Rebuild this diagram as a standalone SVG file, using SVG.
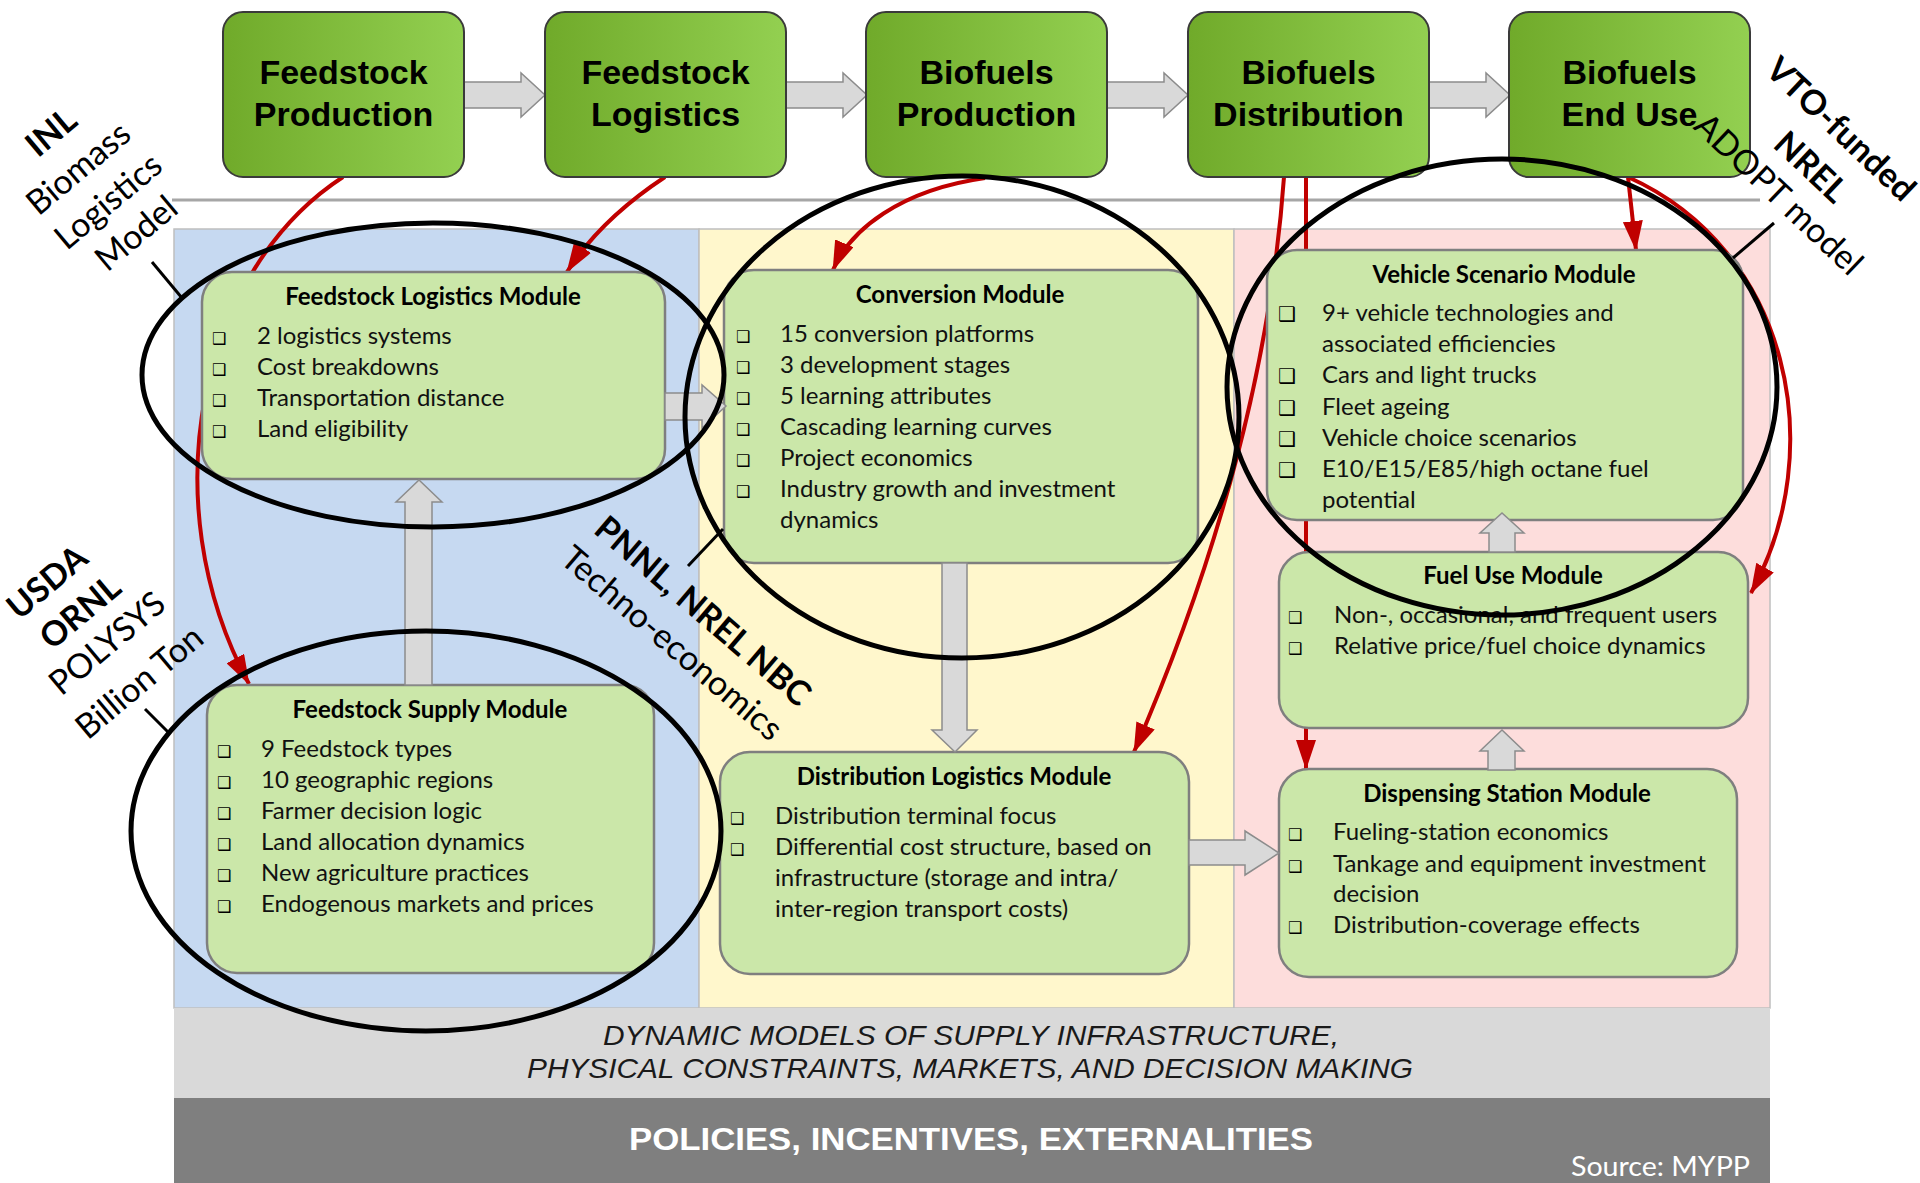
<svg xmlns="http://www.w3.org/2000/svg" width="1920" height="1183" viewBox="0 0 1920 1183">
<defs>
<linearGradient id="gTop" x1="0" y1="0" x2="1" y2="0">
<stop offset="0" stop-color="#70aa2a"/>
<stop offset="1" stop-color="#93d051"/>
</linearGradient>
<marker id="ah" viewBox="0 0 30 20" refX="29" refY="10" markerWidth="30" markerHeight="20" markerUnits="userSpaceOnUse" orient="auto">
<path d="M0,0 L30,10 L0,20 Z" fill="#c00000"/>
</marker>
<style>
.top rect{fill:url(#gTop);stroke:#3a3a3a;stroke-width:2}
.top text{font-family:"Liberation Sans",Arial,sans-serif;font-weight:bold;font-size:34px;fill:#000;text-anchor:middle}
.mod rect{fill:#cbe7a9;stroke:#7f7f7f;stroke-width:2.5}
.ttl{font-family:Lato,"Open Sans",sans-serif;font-weight:bold;font-size:24px;text-anchor:middle;fill:#000}
.it{font-family:Lato,"Open Sans",sans-serif;font-size:24px;fill:#111}
.bl{font-family:"DejaVu Sans",sans-serif;font-size:16px;fill:#000}
.blv{font-family:"DejaVu Sans",sans-serif;font-size:20px;fill:#000}
.conn{fill:none;stroke:#c00000;stroke-width:4;marker-end:url(#ah)}
.blk{fill:#d9d9d9;stroke:#8c8c8c;stroke-width:1.5}
.ell{fill:none;stroke:#000;stroke-width:5}
.lead{stroke:#000;stroke-width:3}
.lab{font-family:Lato,"Open Sans",sans-serif;font-size:34px;text-anchor:middle;fill:#000}
.b{font-weight:bold}
</style>
</defs>

<g id="background">
<rect x="174" y="229" width="525" height="779" fill="#c6d9f1" stroke="#bfbfbf" stroke-width="1.5"/>
<rect x="699" y="229" width="535" height="779" fill="#fff7cc" stroke="#bfbfbf" stroke-width="1.5"/>
<rect x="1234" y="229" width="536" height="779" fill="#fddddc" stroke="#bfbfbf" stroke-width="1.5"/>
<rect x="174" y="1008" width="1596" height="90" fill="#d9d9d9"/>
<rect x="174" y="1098" width="1596" height="85" fill="#7f7f7f"/>
<line x1="172" y1="200" x2="1760" y2="200" stroke="#a6a6a6" stroke-width="3"/>
<text x="971" y="1045" font-family="Liberation Sans,Arial,sans-serif" font-style="italic" font-size="28" text-anchor="middle" textLength="736" lengthAdjust="spacingAndGlyphs" fill="#1a1a1a">DYNAMIC MODELS OF SUPPLY INFRASTRUCTURE,</text>
<text x="970" y="1078" font-family="Liberation Sans,Arial,sans-serif" font-style="italic" font-size="28" text-anchor="middle" textLength="886" lengthAdjust="spacingAndGlyphs" fill="#1a1a1a">PHYSICAL CONSTRAINTS, MARKETS, AND DECISION MAKING</text>
<text x="971" y="1150" font-family="Liberation Sans,Arial,sans-serif" font-weight="bold" font-size="31" text-anchor="middle" textLength="684" lengthAdjust="spacingAndGlyphs" fill="#ffffff">POLICIES, INCENTIVES, EXTERNALITIES</text>
<text x="1750" y="1176" font-family="Lato,Open Sans,sans-serif" font-size="27" text-anchor="end" textLength="179" lengthAdjust="spacingAndGlyphs" fill="#ffffff">Source: MYPP</text>
</g>

<g id="connectors">
<path class="conn" d="M343,177 C200,270 150,500 249,684"/>
<path class="conn" d="M665,177 Q600,220 567,272"/>
<path class="conn" d="M985,178 C900,190 850,230 833,270"/>
<path class="conn" d="M1284,177 C1268,400 1200,600 1134,752"/>
<path class="conn" d="M1306,177 L1306,769"/>
<path class="conn" d="M1628,177 L1636,250"/>
<path class="conn" d="M1628,177 C1790,250 1830,450 1751,593"/>
</g>

<g id="top-arrows">
<path class="blk" d="M464,82 H521 V73 L545,95 L521,117 V108 H464 Z"/>
<path class="blk" d="M786,82 H843 V73 L867,95 L843,117 V108 H786 Z"/>
<path class="blk" d="M1107,82 H1164 V73 L1188,95 L1164,117 V108 H1107 Z"/>
<path class="blk" d="M1429,82 H1486 V73 L1510,95 L1486,117 V108 H1429 Z"/>
</g>

<g id="feedstock-production" class="top">
<rect x="223" y="12" width="241" height="165" rx="20"/>
<text x="343.5" y="84">Feedstock</text>
<text x="343.5" y="126">Production</text>
</g>
<g id="feedstock-logistics" class="top">
<rect x="545" y="12" width="241" height="165" rx="20"/>
<text x="665.5" y="84">Feedstock</text>
<text x="665.5" y="126">Logistics</text>
</g>
<g id="biofuels-production" class="top">
<rect x="866" y="12" width="241" height="165" rx="20"/>
<text x="986.5" y="84">Biofuels</text>
<text x="986.5" y="126">Production</text>
</g>
<g id="biofuels-distribution" class="top">
<rect x="1188" y="12" width="241" height="165" rx="20"/>
<text x="1308.5" y="84">Biofuels</text>
<text x="1308.5" y="126">Distribution</text>
</g>
<g id="biofuels-end-use" class="top">
<rect x="1509" y="12" width="241" height="165" rx="20"/>
<text x="1629.5" y="84">Biofuels</text>
<text x="1629.5" y="126">End Use</text>
</g>

<g id="feedstock-logistics-module" class="mod">
<rect x="202" y="272" width="463" height="207" rx="30"/>
<text class="ttl" x="433" y="305">Feedstock Logistics Module</text>
<text class="bl" x="212" y="344">❑</text><text class="it" x="257" y="344">2 logistics systems</text>
<text class="bl" x="212" y="375">❑</text><text class="it" x="257" y="375">Cost breakdowns</text>
<text class="bl" x="212" y="406">❑</text><text class="it" x="257" y="406">Transportation distance</text>
<text class="bl" x="212" y="437">❑</text><text class="it" x="257" y="437">Land eligibility</text>
</g>

<g id="feedstock-supply-module" class="mod">
<rect x="207" y="685" width="447" height="288" rx="30"/>
<text class="ttl" x="430" y="718">Feedstock Supply Module</text>
<text class="bl" x="217" y="757">❑</text><text class="it" x="261" y="757">9 Feedstock types</text>
<text class="bl" x="217" y="788">❑</text><text class="it" x="261" y="788">10 geographic regions</text>
<text class="bl" x="217" y="819">❑</text><text class="it" x="261" y="819">Farmer decision logic</text>
<text class="bl" x="217" y="850">❑</text><text class="it" x="261" y="850">Land allocation dynamics</text>
<text class="bl" x="217" y="881">❑</text><text class="it" x="261" y="881">New agriculture practices</text>
<text class="bl" x="217" y="912">❑</text><text class="it" x="261" y="912">Endogenous markets and prices</text>
</g>

<g id="conversion-module" class="mod">
<rect x="724" y="270" width="474" height="293" rx="30"/>
<text class="ttl" x="960" y="303">Conversion Module</text>
<text class="bl" x="736" y="342">❑</text><text class="it" x="780" y="342">15 conversion platforms</text>
<text class="bl" x="736" y="373">❑</text><text class="it" x="780" y="373">3 development stages</text>
<text class="bl" x="736" y="404">❑</text><text class="it" x="780" y="404">5 learning attributes</text>
<text class="bl" x="736" y="435">❑</text><text class="it" x="780" y="435">Cascading learning curves</text>
<text class="bl" x="736" y="466">❑</text><text class="it" x="780" y="466">Project economics</text>
<text class="bl" x="736" y="497">❑</text><text class="it" x="780" y="497">Industry growth and investment</text>
<text class="it" x="780" y="528">dynamics</text>
</g>

<g id="distribution-logistics-module" class="mod">
<rect x="720" y="752" width="469" height="222" rx="30"/>
<text class="ttl" x="954" y="785">Distribution Logistics Module</text>
<text class="bl" x="730" y="824">❑</text><text class="it" x="775" y="824">Distribution terminal focus</text>
<text class="bl" x="730" y="855">❑</text><text class="it" x="775" y="855">Differential cost structure, based on</text>
<text class="it" x="775" y="886">infrastructure (storage and intra/</text>
<text class="it" x="775" y="917">inter-region transport costs)</text>
</g>

<g id="vehicle-scenario-module" class="mod">
<rect x="1267" y="250" width="476" height="270" rx="30"/>
<text class="ttl" x="1504" y="283">Vehicle Scenario Module</text>
<text class="blv" x="1278" y="321">❑</text><text class="it" x="1322" y="321">9+ vehicle technologies and</text>
<text class="it" x="1322" y="352">associated efficiencies</text>
<text class="blv" x="1278" y="383">❑</text><text class="it" x="1322" y="383">Cars and light trucks</text>
<text class="blv" x="1278" y="415">❑</text><text class="it" x="1322" y="415">Fleet ageing</text>
<text class="blv" x="1278" y="446">❑</text><text class="it" x="1322" y="446">Vehicle choice scenarios</text>
<text class="blv" x="1278" y="477">❑</text><text class="it" x="1322" y="477">E10/E15/E85/high octane fuel</text>
<text class="it" x="1322" y="508">potential</text>
</g>

<g id="fuel-use-module" class="mod">
<rect x="1279" y="552" width="469" height="176" rx="30"/>
<text class="ttl" x="1513" y="584">Fuel Use Module</text>
<text class="bl" x="1288" y="623">❑</text><text class="it" x="1334" y="623">Non-, occasional, and frequent users</text>
<text class="bl" x="1288" y="654">❑</text><text class="it" x="1334" y="654">Relative price/fuel choice dynamics</text>
</g>

<g id="dispensing-station-module" class="mod">
<rect x="1279" y="769" width="458" height="208" rx="30"/>
<text class="ttl" x="1507" y="802">Dispensing Station Module</text>
<text class="bl" x="1288" y="840">❑</text><text class="it" x="1333" y="840">Fueling-station economics</text>
<text class="bl" x="1288" y="872">❑</text><text class="it" x="1333" y="872">Tankage and equipment investment</text>
<text class="it" x="1333" y="902">decision</text>
<text class="bl" x="1288" y="933">❑</text><text class="it" x="1333" y="933">Distribution-coverage effects</text>
</g>

<g id="module-arrows">
<path class="blk" d="M665,393 H702 V385 L726,406 L702,428 V420 H665 Z"/>
<path class="blk" d="M405,685 V502 H396 L419,480 L442,502 H432 V685 Z"/>
<path class="blk" d="M942,563 V730 H932 L955,752 L977,730 H967 V563 Z"/>
<path class="blk" d="M1189,840 H1245 V831 L1279,853 L1245,875 V865 H1189 Z"/>
<path class="blk" d="M1488,770 V751 H1480 L1502,730 L1524,751 H1515 V770 Z"/>
<path class="blk" d="M1489,552 V533 H1480 L1502,513 L1524,533 H1515 V552 Z"/>
</g>

<g id="label-inl" class="lab">
<text class="b" transform="translate(51,132) rotate(-40)" dy="0.35em">INL</text>
<text transform="translate(78,168) rotate(-40)" dy="0.35em">Biomass</text>
<text transform="translate(108,201) rotate(-40)" dy="0.35em">Logistics</text>
<text transform="translate(136,233) rotate(-40)" dy="0.35em">Model</text>
</g>
<g id="label-usda" class="lab">
<text class="b" transform="translate(47,582) rotate(-40)" dy="0.35em">USDA</text>
<text class="b" transform="translate(80,612) rotate(-40)" dy="0.35em">ORNL</text>
<text transform="translate(107,643) rotate(-40)" dy="0.35em">POLYSYS</text>
<text transform="translate(139,682) rotate(-40)" dy="0.35em">Billion Ton</text>
</g>
<g id="label-pnnl" class="lab">
<text class="b" transform="translate(703,611) rotate(40.5)" dy="0.35em">PNNL, NREL NBC</text>
<text transform="translate(672,643) rotate(40.5)" dy="0.35em">Techno-economics</text>
</g>
<g id="label-vto" class="lab">
<text class="b" transform="translate(1841,129) rotate(43.5)" dy="0.35em">VTO-funded</text>
<text class="b" transform="translate(1811,167) rotate(43.5)" dy="0.35em">NREL</text>
<text transform="translate(1779,194) rotate(43.5)" dy="0.35em">ADOPT model</text>
</g>

<g id="ellipses">
<ellipse class="ell" cx="433" cy="375" rx="291" ry="152"/>
<ellipse class="ell" cx="426" cy="831" rx="295" ry="200"/>
<ellipse class="ell" cx="962" cy="417" rx="277" ry="241"/>
<ellipse class="ell" cx="1502" cy="387" rx="275" ry="228"/>
<line class="lead" x1="152" y1="262" x2="182" y2="298"/>
<line class="lead" x1="145" y1="709" x2="169" y2="733"/>
<line class="lead" x1="688" y1="566" x2="723" y2="529"/>
<line class="lead" x1="1733" y1="258" x2="1774" y2="223"/>
</g>
</svg>
